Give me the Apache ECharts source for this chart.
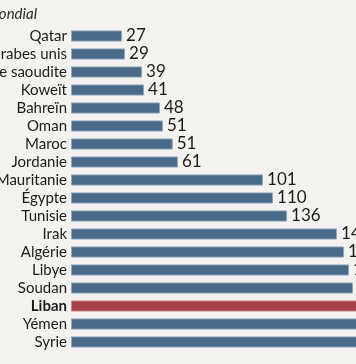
<!DOCTYPE html>
<html><head><meta charset="utf-8">
<script src="https://cdn.jsdelivr.net/npm/echarts@6/dist/echarts.min.js"></script>
<style>
html,body{margin:0;padding:0;width:356px;height:364px;overflow:hidden;background:#f4f2ee;}
#wrap{position:absolute;left:-150px;top:0;width:600px;height:364px;}
</style></head><body>
<div id="wrap"></div>
<script>
const titleText = "Classement mondial";
const countries = ["Qatar","Émirats arabes unis","Arabie saoudite","Koweït","Bahreïn","Oman","Maroc","Jordanie","Mauritanie","Égypte","Tunisie","Irak","Algérie","Libye","Soudan","Liban","Yémen","Syrie"];
const ranks = [27,29,39,41,48,51,51,61,101,110,136,145,149,153,156,160,170,175];
const barLengths = [27.6,29.2,38.4,39.5,48.1,49.7,55.0,57.8,103.8,109.2,116.8,143.8,147.6,150.3,152.4,162,165,168];
const highlight = "Liban";

const chart = echarts.init(document.getElementById('wrap'), null, {renderer:'canvas'});
chart.setOption({
  backgroundColor: '#f4f2ee',
  animation: false,
  textStyle: {fontFamily: 'Lato'},
  grid: {left: 221, right: 9, top: 27, bottom: 13, containLabel: false},
  graphic: [{
    type: 'text', x: 187, y: 14,
    style: {text: titleText, align: 'right', verticalAlign: 'middle', font: 'italic 15px Lato', fill: '#2a2a2a'}
  }],
  xAxis: {type: 'value', min: 0, max: 200, show: false},
  yAxis: {
    type: 'category', data: countries, inverse: true,
    axisLine: {show: false}, axisTick: {show: false},
    axisLabel: {
      interval: 0, margin: 4, fontSize: 15, color: '#1c1c1c', fontFamily: 'Lato',
      formatter: v => v === highlight ? '{b|' + v + '}' : v,
      rich: {b: {fontWeight: 'bold', fontSize: 15, color: '#1c1c1c', fontFamily: 'Lato'}}
    }
  },
  series: [{
    type: 'bar',
    barCategoryGap: '38%',
    data: barLengths.map((v, i) => ({
      value: v,
      itemStyle: {color: countries[i] === highlight ? '#a8424a' : '#4a6a89',
                  borderColor: countries[i] === highlight ? '#c98a8e' : '#8ea8bf', borderWidth: 1}
    })),
    label: {
      show: true, position: 'right', distance: 4, fontSize: 17, color: '#1c1c1c', fontFamily: 'Lato',
      formatter: p => String(ranks[p.dataIndex])
    }
  }]
});
</script></body></html>
